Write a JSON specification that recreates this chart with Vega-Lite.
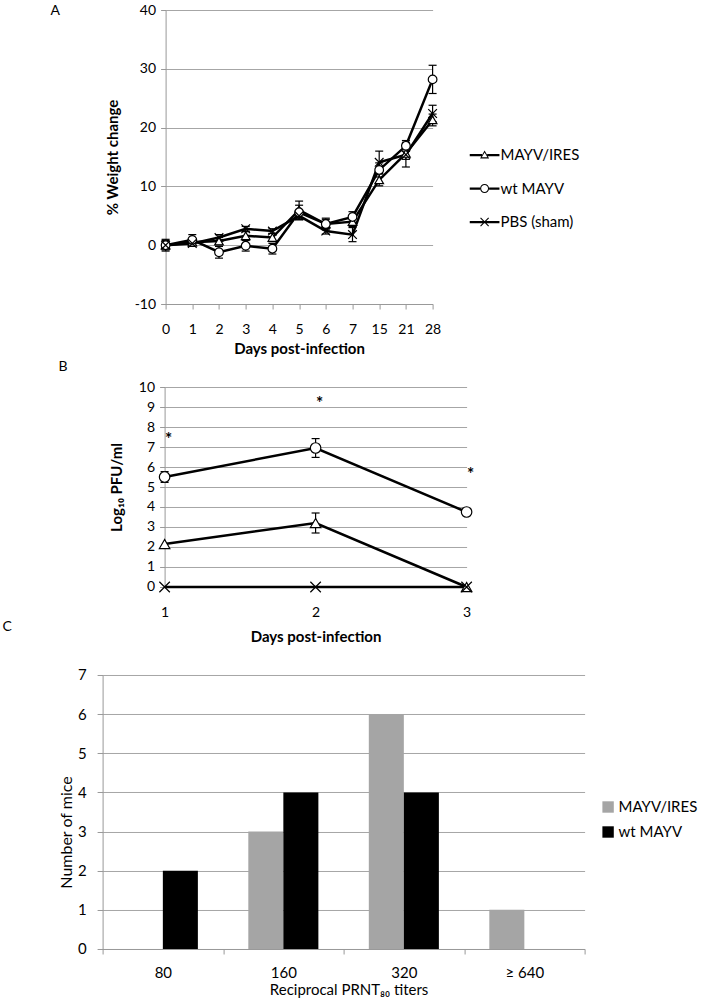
{
  "$schema": "https://vega.github.io/schema/vega-lite/v6.json",
  "padding": {"left": 2.6, "top": 3, "right": 0, "bottom": 0},
  "background": "white",
  "config": {
    "view": {"stroke": null},
    "font": "Lato",
    "axis": {"labelFont": "Lato", "titleFont": "Lato", "labelColor": "#000", "titleColor": "#000", "domainColor": "#999", "tickColor": "#999", "gridColor": "#a6a6a6", "labelFontSize": 14, "titleFontSize": 15, "tickSize": 5, "domainWidth": 1, "gridWidth": 1},
    "legend": {"labelFont": "Lato", "labelFontSize": 15, "labelColor": "#000"},
    "title": {"font": "Lato", "fontSize": 14, "fontWeight": "normal", "color": "#000"}
  },
  "datasets": {
    "wA": [
      {"g": "MAYV/IRES", "day": 0, "v": 0, "lo": -0.8, "hi": 0.8},
      {"g": "MAYV/IRES", "day": 1, "v": 0.5, "lo": -0.1, "hi": 1.1},
      {"g": "MAYV/IRES", "day": 2, "v": 0.7, "lo": 0.1, "hi": 1.3},
      {"g": "MAYV/IRES", "day": 3, "v": 1.6, "lo": 0.9, "hi": 2.3},
      {"g": "MAYV/IRES", "day": 4, "v": 1.3, "lo": 0.6, "hi": 2.0},
      {"g": "MAYV/IRES", "day": 5, "v": 6.0, "lo": 4.5, "hi": 7.5},
      {"g": "MAYV/IRES", "day": 6, "v": 3.6, "lo": 2.8, "hi": 4.4},
      {"g": "MAYV/IRES", "day": 7, "v": 4.0, "lo": 3.2, "hi": 4.8},
      {"g": "MAYV/IRES", "day": 15, "v": 11.1, "lo": 10.1, "hi": 12.1},
      {"g": "MAYV/IRES", "day": 21, "v": 15.6, "lo": 14.6, "hi": 16.6},
      {"g": "MAYV/IRES", "day": 28, "v": 21.3, "lo": 20.3, "hi": 22.3},
      {"g": "wt MAYV", "day": 0, "v": 0, "lo": -1.0, "hi": 1.0},
      {"g": "wt MAYV", "day": 1, "v": 0.9, "lo": 0.0, "hi": 1.8},
      {"g": "wt MAYV", "day": 2, "v": -1.2, "lo": -2.2, "hi": -0.2},
      {"g": "wt MAYV", "day": 3, "v": -0.1, "lo": -1.0, "hi": 0.8},
      {"g": "wt MAYV", "day": 4, "v": -0.6, "lo": -1.5, "hi": 0.3},
      {"g": "wt MAYV", "day": 5, "v": 5.6, "lo": 4.4, "hi": 6.8},
      {"g": "wt MAYV", "day": 6, "v": 3.6, "lo": 2.6, "hi": 4.6},
      {"g": "wt MAYV", "day": 7, "v": 4.8, "lo": 3.9, "hi": 5.7},
      {"g": "wt MAYV", "day": 15, "v": 12.8, "lo": 11.6, "hi": 14.0},
      {"g": "wt MAYV", "day": 21, "v": 16.9, "lo": 16.0, "hi": 17.8},
      {"g": "wt MAYV", "day": 28, "v": 28.2, "lo": 25.8, "hi": 30.6},
      {"g": "PBS (sham)", "day": 0, "v": 0, "lo": -0.5, "hi": 0.5},
      {"g": "PBS (sham)", "day": 1, "v": 0.3, "lo": -0.2, "hi": 0.8},
      {"g": "PBS (sham)", "day": 2, "v": 1.3, "lo": 0.8, "hi": 1.8},
      {"g": "PBS (sham)", "day": 3, "v": 2.8, "lo": 2.4, "hi": 3.2},
      {"g": "PBS (sham)", "day": 4, "v": 2.4, "lo": 2.0, "hi": 2.8},
      {"g": "PBS (sham)", "day": 5, "v": 5.0, "lo": 4.3, "hi": 5.7},
      {"g": "PBS (sham)", "day": 6, "v": 2.4, "lo": 1.9, "hi": 2.9},
      {"g": "PBS (sham)", "day": 7, "v": 1.8, "lo": 0.6, "hi": 3.0},
      {"g": "PBS (sham)", "day": 15, "v": 14.1, "lo": 12.2, "hi": 16.0},
      {"g": "PBS (sham)", "day": 21, "v": 15.4, "lo": 13.3, "hi": 17.5},
      {"g": "PBS (sham)", "day": 28, "v": 22.4, "lo": 21.0, "hi": 23.8}
    ],
    "vB": [
      {"g": "MAYV/IRES", "day": 1, "v": 2.15, "lo": 2.15, "hi": 2.15},
      {"g": "MAYV/IRES", "day": 2, "v": 3.2, "lo": 2.7, "hi": 3.7},
      {"g": "MAYV/IRES", "day": 3, "v": 0, "lo": 0, "hi": 0},
      {"g": "wt MAYV", "day": 1, "v": 5.5, "lo": 5.23, "hi": 5.77},
      {"g": "wt MAYV", "day": 2, "v": 6.95, "lo": 6.48, "hi": 7.42},
      {"g": "wt MAYV", "day": 3, "v": 3.75, "lo": 3.75, "hi": 3.75},
      {"g": "PBS (sham)", "day": 1, "v": 0, "lo": 0, "hi": 0},
      {"g": "PBS (sham)", "day": 2, "v": 0, "lo": 0, "hi": 0},
      {"g": "PBS (sham)", "day": 3, "v": 0, "lo": 0, "hi": 0}
    ],
    "starsB": [
      {"day": 1, "y": 7.6},
      {"day": 2, "y": 9.4},
      {"day": 3, "y": 5.85}
    ],
    "barsC": [
      {"t": "80", "g": "MAYV/IRES", "n": 0},
      {"t": "80", "g": "wt MAYV", "n": 2},
      {"t": "160", "g": "MAYV/IRES", "n": 3},
      {"t": "160", "g": "wt MAYV", "n": 4},
      {"t": "320", "g": "MAYV/IRES", "n": 6},
      {"t": "320", "g": "wt MAYV", "n": 4},
      {"t": "≥ 640", "g": "MAYV/IRES", "n": 1},
      {"t": "≥ 640", "g": "wt MAYV", "n": 0}
    ]
  },
  "spacing": -25,
  "vconcat": [
    {
      "spacing": 4,
      "vconcat": [
        {
          "spacing": 1,
          "hconcat": [
            {
              "width": 1, "height": 1,
              "data": {"values": [{"s": 1}]},
              "mark": {"type": "point", "opacity": 0, "size": 1},
              "encoding": {},
              "title": {"text": "A", "anchor": "start", "frame": "group", "offset": 0, "baseline": "middle", "dx": -52, "dy": 15}
            },
            {
              "width": 267, "height": 294,
              "data": {"name": "wA"},
              "encoding": {
                "x": {"field": "day", "type": "ordinal", "scale": {"type": "point", "padding": 0},
                      "axis": {"labelAngle": 0, "labelPadding": 13, "title": "Days post-infection", "titleFontWeight": "bold", "titlePadding": 5, "grid": false}},
                "y": {"field": "v", "type": "quantitative", "scale": {"domain": [-10, 40], "nice": false},
                      "axis": {"values": [-10, 0, 10, 20, 30, 40], "labelExpr": "'' + datum.value", "grid": true, "labelPadding": 5, "title": "% Weight change", "titleFontWeight": "bold", "titlePadding": 14}}
              },
              "layer": [
                {
                  "transform": [{"filter": "datum.hi > datum.lo"}],
                  "mark": {"type": "rule", "color": "black", "strokeWidth": 1.2},
                  "encoding": {"y": {"field": "lo", "type": "quantitative", "title": "% Weight change"}, "y2": {"field": "hi"}}
                },
                {
                  "transform": [{"filter": "datum.hi > datum.lo"}],
                  "mark": {"type": "tick", "orient": "horizontal", "size": 8, "thickness": 1.2, "color": "black", "opacity": 1},
                  "encoding": {"y": {"field": "lo", "type": "quantitative", "title": "% Weight change"}}
                },
                {
                  "transform": [{"filter": "datum.hi > datum.lo"}],
                  "mark": {"type": "tick", "orient": "horizontal", "size": 8, "thickness": 1.2, "color": "black", "opacity": 1},
                  "encoding": {"y": {"field": "hi", "type": "quantitative", "title": "% Weight change"}}
                },
                {
                  "mark": {"type": "line", "color": "black", "strokeWidth": 2.5},
                  "encoding": {"detail": {"field": "g"}}
                },
                {
                  "mark": {"type": "point", "filled": true, "fill": "white", "stroke": "black", "strokeWidth": 1.2, "size": 75, "opacity": 1},
                  "encoding": {"shape": {"field": "g", "type": "nominal",
                    "scale": {"domain": ["MAYV/IRES", "wt MAYV", "PBS (sham)"], "range": ["triangle-up", "circle", "M-1,-1L1,1M-1,1L1,-1"]},
                    "legend": null}}
                },
                {
                  "data": {"values": []},
                  "mark": {"type": "point", "filled": true, "fill": "black", "strokeWidth": 0, "opacity": 1},
                  "encoding": {
                    "shape": {"field": "g", "type": "nominal",
                      "scale": {"domain": ["MAYV/IRES", "wt MAYV", "PBS (sham)"],
                                "range": [
                                  "M-3.3,-0.25H-0.57V0.25H-3.3Z M0.57,-0.25H3.3V0.25H0.57Z M0,-1L1,0.75L-1,0.75Z M0,-0.55L-0.62,0.52L0.62,0.52Z",
                                  "M-3.3,-0.25H-1V0.25H-3.3Z M1,-0.25H3.3V0.25H1Z M1,0A1,1,0,1,1,-1,0A1,1,0,1,1,1,0Z M0.76,0A0.76,0.76,0,1,0,-0.76,0A0.76,0.76,0,1,0,0.76,0Z",
                                  "M-3.3,-0.25H3.3V0.25H-3.3Z M-0.815,-0.985L0.985,0.815L0.815,0.985L-0.985,-0.815Z M-0.985,0.815L0.815,-0.985L0.985,-0.815L-0.815,0.985Z"
                                ]},
                      "legend": {"title": null, "orient": "none", "legendX": 311.5, "legendY": 137.5, "symbolSize": 81, "symbolStrokeWidth": 0, "symbolFillColor": "black", "labelOffset": 8.5, "rowPadding": 17.5, "labelFontSize": 15, "padding": 0}}
                  }
                }
              ],
              "resolve": {"scale": {"shape": "independent"}, "legend": {"shape": "independent"}}
            }
          ]
        },
        {
          "spacing": 6,
          "hconcat": [
            {
              "width": 1, "height": 1,
              "data": {"values": [{"s": 1}]},
              "mark": {"type": "point", "opacity": 0, "size": 1},
              "encoding": {},
              "title": {"text": "B", "anchor": "start", "frame": "group", "offset": 0, "baseline": "middle", "dx": -44, "dy": -6}
            },
            {
              "width": 302, "height": 200,
              "data": {"name": "vB"},
              "encoding": {
                "x": {"field": "day", "type": "ordinal", "scale": {"type": "point", "padding": 0},
                      "axis": {"labelAngle": 0, "grid": false, "ticks": false, "tickSize": 0, "labelPadding": 19, "title": "Days post-infection", "titleFontWeight": "bold", "titlePadding": 10}},
                "y": {"field": "v", "type": "quantitative", "scale": {"domain": [0, 10], "nice": false},
                      "axis": {"values": [0, 1, 2, 3, 4, 5, 6, 7, 8, 9, 10], "grid": true, "labelPadding": 5, "title": "Log₁₀ PFU/ml", "titleFontWeight": "bold", "titlePadding": 13.5}}
              },
              "layer": [
                {
                  "transform": [{"filter": "datum.hi > datum.lo"}],
                  "mark": {"type": "rule", "color": "black", "strokeWidth": 1.2},
                  "encoding": {"y": {"field": "lo", "type": "quantitative", "title": "Log₁₀ PFU/ml"}, "y2": {"field": "hi"}}
                },
                {
                  "transform": [{"filter": "datum.hi > datum.lo"}],
                  "mark": {"type": "tick", "orient": "horizontal", "size": 8, "thickness": 1.2, "color": "black", "opacity": 1},
                  "encoding": {"y": {"field": "lo", "type": "quantitative", "title": "Log₁₀ PFU/ml"}}
                },
                {
                  "transform": [{"filter": "datum.hi > datum.lo"}],
                  "mark": {"type": "tick", "orient": "horizontal", "size": 8, "thickness": 1.2, "color": "black", "opacity": 1},
                  "encoding": {"y": {"field": "hi", "type": "quantitative", "title": "Log₁₀ PFU/ml"}}
                },
                {
                  "mark": {"type": "line", "color": "black", "strokeWidth": 2.5},
                  "encoding": {"detail": {"field": "g"}}
                },
                {
                  "mark": {"type": "point", "filled": true, "fill": "white", "stroke": "black", "strokeWidth": 1.2, "size": 110, "opacity": 1},
                  "encoding": {"shape": {"field": "g", "type": "nominal", "scale": {"domain": ["MAYV/IRES", "wt MAYV", "PBS (sham)"], "range": ["triangle-up", "circle", "M-1,-1L1,1M-1,1L1,-1"]}, "legend": null}}
                },
                {
                  "data": {"name": "starsB"},
                  "mark": {"type": "text", "text": "*", "fontSize": 17, "fontWeight": "bold", "dx": 4, "dy": 5, "baseline": "middle", "align": "center", "fill": "#000000", "opacity": 1},
                  "encoding": {"y": {"field": "y", "type": "quantitative", "title": "Log₁₀ PFU/ml"}}
                }
              ]
            }
          ]
        }
      ]
    },
    {
      "width": 482, "height": 274,
      "data": {"name": "barsC"},
      "title": {"text": "C", "anchor": "start", "frame": "group", "offset": 0, "baseline": "middle", "dx": -100, "dy": -26.5},
      "mark": {"type": "bar"},
      "encoding": {
        "x": {"field": "t", "type": "nominal", "sort": ["80", "160", "320", "≥ 640"], "scale": {"paddingInner": 0, "paddingOuter": 0},
              "axis": {"labelAngle": 0, "tickBand": "extent", "labelPadding": 12, "labelFontSize": 15, "title": "Reciprocal PRNT₈₀ titers", "titleFontSize": 15, "titleFontWeight": "normal", "titlePadding": 2, "titleX": 246}},
        "xOffset": {"field": "g", "type": "nominal", "sort": ["MAYV/IRES", "wt MAYV"], "scale": {"paddingInner": 0, "paddingOuter": 0.72}},
        "y": {"field": "n", "type": "quantitative", "scale": {"domain": [0, 7], "nice": false},
              "axis": {"values": [0, 1, 2, 3, 4, 5, 6, 7], "grid": true, "labelPadding": 11, "tickSize": 5.5, "labelFontSize": 15, "title": "Number of mice", "titleFontWeight": "normal", "titleFontSize": 16, "titlePadding": 3, "titleY": 157}},
        "color": {"field": "g", "type": "nominal", "scale": {"domain": ["MAYV/IRES", "wt MAYV"], "range": ["#a5a5a5", "#000000"]},
                  "legend": {"title": null, "orient": "none", "legendX": 498, "legendY": 789.5, "symbolType": "square", "symbolSize": 130, "labelOffset": 3, "rowPadding": 9, "labelFontSize": 15, "padding": 0}}
      }
    }
  ]
}
